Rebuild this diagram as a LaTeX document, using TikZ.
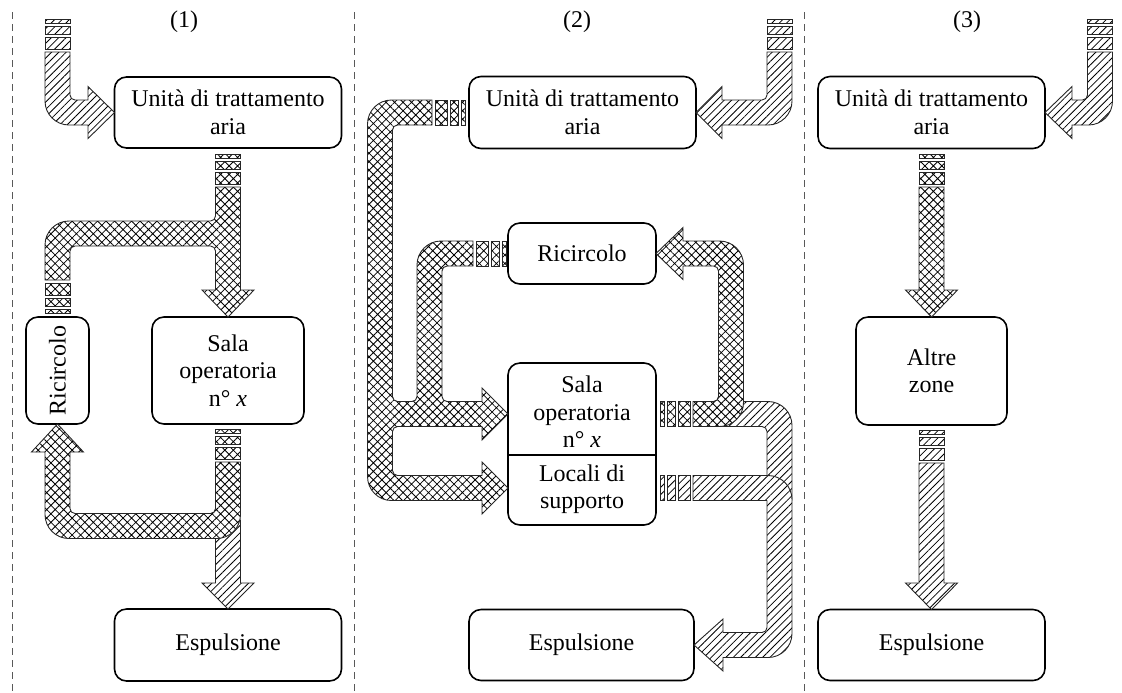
\documentclass[tikz,border=0pt]{standalone}
\usepackage{fontspec}
\setmainfont{Liberation Serif}
\usetikzlibrary{patterns.meta}

\tikzset{
  box/.style={draw, line width=0.8pt, rounded corners=6pt, outer sep=0pt,
    align=center, font=\fontsize{12}{13.75}\selectfont},
  txt/.style={align=center, font=\fontsize{12}{13.75}\selectfont},
  lbl/.style={font=\fontsize{12}{13.75}\selectfont},
  pipe/.style={draw=black!85, line width=0.45pt, preaction={fill=white}},
  pipeline/.style={draw=black!85, line width=0.45pt},
  fresh/.style={pattern={Lines[angle=45,distance=2.6pt,line width=0.4pt]}},
  mixed/.style={pattern={Hatch[angle=45,distance=3pt,line width=0.4pt]}},
  bendout/.style={rounded corners=12pt},
  bendin/.style={rounded corners=2.5pt},
  divider/.style={black!65, line width=0.5pt, dash pattern=on 3.5pt off 2.5pt},
}

% broken end of a pipe: pattern, x, y of the pipe end, direction (1 or -1)
\newcommand{\vbreak}[4]{%
  \foreach \p/\q in {3/15,18/26,29/33}
    \draw[pipe,#1] ({#2-12.5},{#3+(#4)*\p}) rectangle ({#2+12.5},{#3+(#4)*\q});%
}
\newcommand{\hbreak}[4]{%
  \foreach \p/\q in {3/15,18/26,29/33}
    \draw[pipe,#1] ({#2+(#4)*\p},{#3-12.5}) rectangle ({#2+(#4)*\q},{#3+12.5});%
}

\begin{document}
\begin{tikzpicture}[x=0.5pt,y=-0.5pt]
  \useasboundingbox (0,0) rectangle (1122,692);
  \draw[divider] (12,12) -- (12,692);
  \draw[divider] (354,12) -- (354,692);
  \draw[divider] (804,12) -- (804,692);

  % (1)
  \node[lbl] (n1) at (184,22) {(1)};
  \node[box, minimum width=113.5pt, minimum height=35.5pt] (uta1) at (228,112.5) {Unità di trattamento\\aria};
  \node[box, minimum width=31.5pt, minimum height=53.5pt] (ric1) at (57.5,370.5) {\rotatebox{90}{Ricircolo}};
  \node[box, minimum width=76pt, minimum height=53.5pt] (sala1) at (228,370.5) {Sala\\operatoria\\n° \textit{x}};
  \node[box, minimum width=113.5pt, minimum height=36pt] (esp1) at (228,645) {Espulsione};

  \vbreak{fresh}{57.5}{52}{-1}
  \draw[pipe,fresh] (45,52) -- (70,52) [bendin] -- (70,100) [sharp corners] -- (88,100) -- (88,86.5) -- (uta1.west)
    -- (88,138.5) -- (88,125) [bendout] -- (45,125) [sharp corners] -- cycle;
  \vbreak{mixed}{228}{187}{-1}
  \draw[pipe,mixed] (215.5,187) -- (240.5,187) -- (240.5,290) -- (254,290) -- (sala1.north) -- (202,290) -- (215.5,290)
    [bendin] -- (215.5,246) -- (70,246) [sharp corners] -- (70,280) -- (45,280)
    [bendout] -- (45,221) [bendin] -- (215.5,221) [sharp corners] -- cycle;
  \vbreak{mixed}{57.5}{280}{1}
  \draw[pipe,fresh] (215.5,520) -- (240.5,520) -- (240.5,583) -- (254,583) -- (esp1.north) -- (202,583) -- (215.5,583) -- cycle;
  \vbreak{mixed}{228}{462}{-1}
  \draw[pipe,mixed] (215.5,462) -- (240.5,462) [bendout] -- (240.5,538.5) -- (45,538.5) [sharp corners] -- (45,452)
    -- (31.5,452) -- (ric1.south) -- (83.5,452) -- (70,452) [bendin] -- (70,513.5) -- (215.5,513.5) [sharp corners] -- cycle;

  % (2)
  \node[lbl] (n2) at (577,22) {(2)};
  \node[box, minimum width=113.5pt, minimum height=36pt] (uta2) at (582.5,112.5) {Unità di trattamento\\aria};
  \node[box, minimum width=74pt, minimum height=30.5pt] (ric2) at (582,253.5) {Ricircolo};
  \node[box, minimum width=74pt, minimum height=81pt] (frame2) at (582,444) {};
  \node[txt] (sala2) at (582,412) {Sala\\operatoria\\n° \textit{x}};
  \node[txt] (loc2) at (582,489) {Locali di\\supporto};
  \draw[line width=0.8pt] (frame2.west |- 0,455) -- (frame2.east |- 0,455);
  \node[box, minimum width=112.5pt, minimum height=35.5pt] (esp2) at (581.5,645) {Espulsione};

  \vbreak{fresh}{779.5}{52}{-1}
  \draw[pipe,fresh] (767,52) -- (792,52) [bendout] -- (792,125) [sharp corners] -- (722,125) -- (722,138.5) -- (uta2.east)
    -- (722,86.5) -- (722,100) [bendin] -- (767,100) [sharp corners] -- cycle;
  \draw[pipe,fresh] (700,401.5) [bendout] -- (792,401.5) -- (792,657.5) [sharp corners] -- (723,657.5) -- (723,671)
    -- (esp2.east) -- (723,619) -- (723,632.5) [bendin] -- (767,632.5) -- (767,426.5) [sharp corners] -- (700,426.5) -- cycle;
  \path[fresh, preaction={fill=white}] (693,475.5) [bendout] -- (792,475.5) [sharp corners] -- (792,500.5) -- (693,500.5) -- cycle;
  \draw[pipeline] (767,500.5) -- (693,500.5) -- (693,475.5) [bendout] -- (792,475.5) [sharp corners] -- (792,500.5);
  \hbreak{fresh}{693}{488}{-1}
  \draw[pipe,mixed] (693,401.5) [bendin] -- (718.5,401.5) -- (718.5,266) [sharp corners] -- (683,266) -- (683,279.5)
    -- (ric2.east) -- (683,227.5) -- (683,241) [bendout] -- (743.5,241) -- (743.5,426.5) [sharp corners] -- (693,426.5) -- cycle;
  \hbreak{mixed}{693}{414}{-1}
  % from the air unit, with the return from Ricircolo joining it
  \draw[pipe,mixed] (432,100) -- (432,125) [bendin] -- (392.5,125) -- (392.5,401.5) -- (417,401.5) [bendout] -- (417,241)
    [sharp corners] -- (473,241) -- (473,266) [bendin] -- (442,266) -- (442,401.5) [sharp corners] -- (482,401.5)
    -- (482,388) -- (frame2.west |- 0,414) -- (482,440) -- (482,426.5) [bendin] -- (392.5,426.5) -- (392.5,475.5)
    [sharp corners] -- (482,475.5) -- (482,462) -- (frame2.west |- 0,488) -- (482,514) -- (482,500.5)
    [bendout] -- (367.5,500.5) -- (367.5,100) [sharp corners] -- cycle;
  \hbreak{mixed}{432}{112.5}{1}
  \hbreak{mixed}{473}{253.5}{1}

  % (3)
  \node[lbl] (n3) at (967,22) {(3)};
  \node[box, minimum width=113.5pt, minimum height=36pt] (uta3) at (931.5,112.5) {Unità di trattamento\\aria};
  \node[box, minimum width=75.5pt, minimum height=54pt] (alt3) at (931.5,371) {Altre\\zone};
  \node[box, minimum width=113.5pt, minimum height=35.5pt] (esp3) at (931.5,645) {Espulsione};

  \vbreak{fresh}{1100}{52}{-1}
  \draw[pipe,fresh] (1087.5,52) -- (1112.5,52) [bendout] -- (1112.5,125) [sharp corners] -- (1072,125) -- (1072,138.5)
    -- (uta3.east) -- (1072,86.5) -- (1072,100) [bendin] -- (1087.5,100) [sharp corners] -- cycle;
  \vbreak{mixed}{931.5}{187}{-1}
  \draw[pipe,mixed] (919,187) -- (944,187) -- (944,290) -- (957.5,290) -- (alt3.north) -- (905.5,290) -- (919,290) -- cycle;
  \vbreak{fresh}{931.5}{463}{-1}
  \draw[pipe,fresh] (919,463) -- (944,463) -- (944,583) -- (957.5,583) -- (esp3.north) -- (905.5,583) -- (919,583) -- cycle;
\end{tikzpicture}
\end{document}
